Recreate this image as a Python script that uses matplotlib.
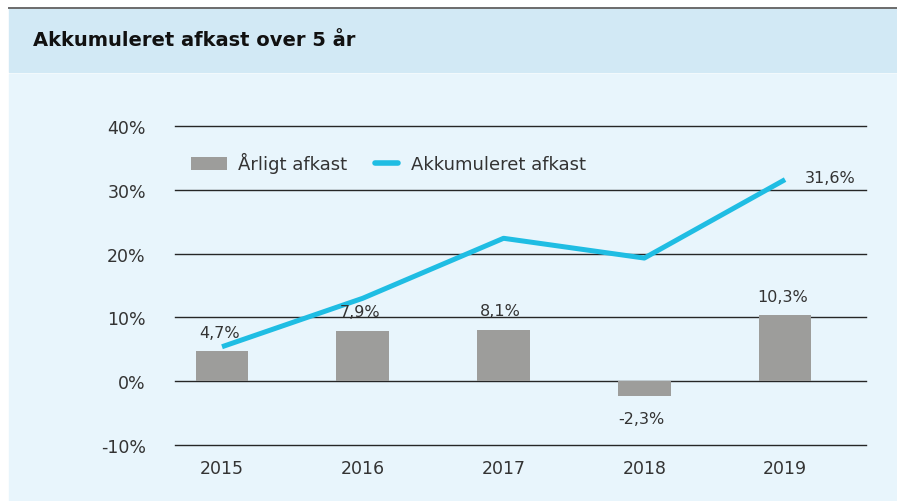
import matplotlib
matplotlib.use("Agg")
import matplotlib.pyplot as plt
from matplotlib.patches import Rectangle
from matplotlib.lines import Line2D
from matplotlib.legend_handler import HandlerLine2D
import numpy as np

years = ["2015", "2016", "2017", "2018", "2019"]
annual = [4.7, 7.9, 8.1, -2.3, 10.3]
cumulative = [5.4, 13.0, 22.4, 19.3, 31.6]
y_ticks = [-10, 0, 10, 20, 30, 40]
title = "Akkumuleret afkast over 5 år"
legend_labels = ["Årligt afkast", "Akkumuleret afkast"]

W, H = 897, 502
fig = plt.figure(figsize=(W / 100, H / 100), dpi=100)
fig.patch.set_facecolor("white")
plt.rcParams["font.family"] = ["DejaVu Sans"]

def fx(px):
    return px / W

def fy(py):
    return 1 - py / H

# background panels
fig.patches.append(Rectangle((fx(9), fy(H)), fx(W - 9), fy(75) - fy(H),
                             transform=fig.transFigure, color="#e8f5fc", zorder=-2))
fig.patches.append(Rectangle((fx(9), fy(72.5)), fx(W - 9), fy(10) - fy(72.5),
                             transform=fig.transFigure, color="#d2e9f5", zorder=-2))
fig.lines.append(Line2D([fx(9), 1], [fy(9.3), fy(9.3)], transform=fig.transFigure,
                        color="#6b6b6b", lw=1.4, zorder=-1))
fig.text(fx(33), fy(41), title, fontsize=14, fontweight="bold", color="#111111",
         va="center", ha="left")

# axes
ax = fig.add_axes([fx(175), fy(446), fx(866) - fx(175), fy(127) - fy(446)])
ax.set_zorder(2)
ax.set_facecolor("none")
x = list(range(len(years)))
ax.set_xlim(-0.334, 4.575)
ax.set_ylim(-10, 40)
for t in y_ticks:
    ax.axhline(t, color="#262626", lw=1.0, zorder=1, clip_on=False)

bars = ax.bar(x, annual, width=0.375, color="#9d9d9b", zorder=2, label=legend_labels[0])
line, = ax.plot(x, cumulative, color="#1fbde3", lw=3.6, solid_capstyle="butt",
                zorder=3, label=legend_labels[1])

for xi, v in zip(x, annual):
    lbl = f"{v:.1f}%".replace(".", ",")
    yy = v + 3.0 if v >= 0 else v - 3.6
    ax.text(xi - 0.02, yy, lbl, ha="center", va="center", fontsize=11.5, color="#333333", zorder=4)

ax.text(x[-1] + 0.32, cumulative[-1] + 0.3, f"{cumulative[-1]:.1f}%".replace(".", ","),
        ha="center", va="center", fontsize=11.5, color="#333333")

ax.set_yticks(y_ticks)
ax.set_yticklabels([f"{t}%" for t in y_ticks])
ax.set_xticks(x)
ax.set_xticklabels(years)
ax.tick_params(axis="both", length=0, labelsize=12.5, colors="#333333")
ax.tick_params(axis="y", pad=21)
ax.tick_params(axis="x", pad=10)
for s in ax.spines.values():
    s.set_visible(False)


class ShortLineHandler(HandlerLine2D):
    def get_xdata(self, legend, xdescent, ydescent, width, height, fontsize):
        xs = np.array([-xdescent + 0.33 * width, -xdescent + 0.97 * width])
        return xs, xs


leg_line = Line2D([], [], color="#1fbde3", lw=4, solid_capstyle="round")
leg = ax.legend(handles=[bars, leg_line],
                labels=legend_labels, loc="upper left", bbox_to_anchor=(0.012, 0.94),
                ncol=2, frameon=False, fontsize=13, handlelength=2.0, handleheight=0.75,
                columnspacing=0.85, handletextpad=0.65, borderaxespad=0,
                handler_map={leg_line: ShortLineHandler()})
for t in leg.get_texts():
    t.set_color("#333333")

fig.savefig("out.png", dpi=100, facecolor=fig.get_facecolor())
